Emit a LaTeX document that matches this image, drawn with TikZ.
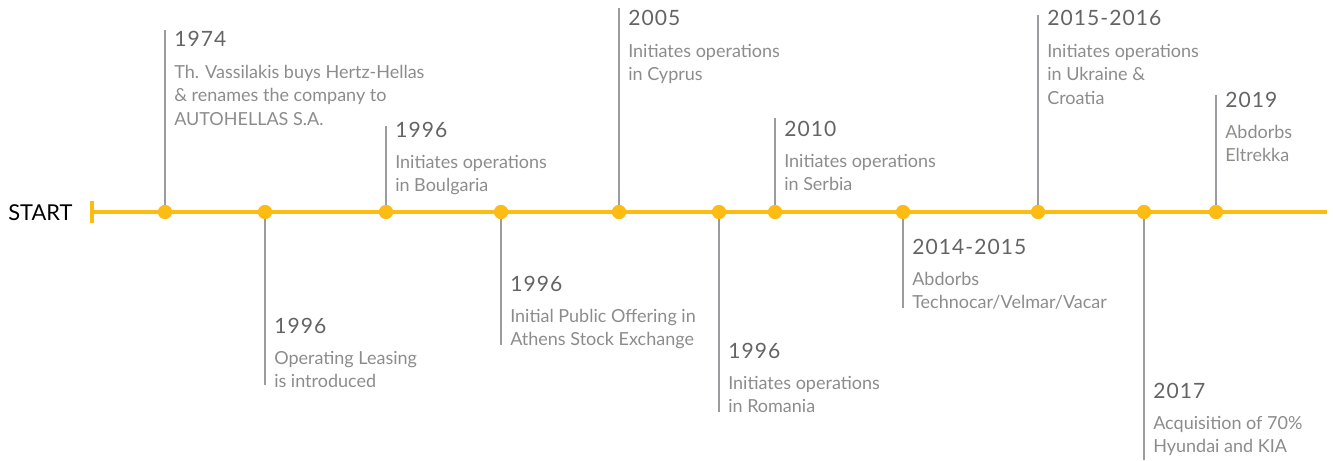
\documentclass[tikz,border=0pt]{standalone}
\usepackage{fontspec}
\setmainfont{Lato}
\newfontfamily\yearfont{Lato}[LetterSpace=5]
\usetikzlibrary{positioning}
\definecolor{tlyellow}{RGB}{252,188,20}
\definecolor{tlgray}{RGB}{155,155,160}
\definecolor{yeargray}{RGB}{100,100,100}
\definecolor{textgray}{RGB}{140,140,140}

\begin{document}
\begin{tikzpicture}[x=0.75pt,y=0.75pt,yscale=-1,xscale=1,
    dot/.style={circle,fill=tlyellow,inner sep=0pt,minimum size=10.5pt},
    stem/.style={draw=tlgray,line width=1.9pt},
    axis/.style={draw=tlyellow,line width=3pt},
    year/.style={anchor=base west,inner sep=0pt,text=yeargray,font=\yearfont\fontsize{15.8}{18}\selectfont},
    info/.style={anchor=base west,inner sep=0pt,text=textgray,align=left,font=\fontsize{13.5}{17.6}\selectfont}]
        \useasboundingbox (0,0) rectangle (1333,460);

        % Axis
        \node [anchor=base west,inner sep=0pt,font=\fontsize{16.4}{18}\selectfont] (start) at (8,220) {START};
        \coordinate (tick) at (92,212);
        \coordinate (tickup) at (92,201);
        \coordinate (tickdn) at (92,223);
        \coordinate (axisend) at (1327,212);
        \draw [axis] (tick) -- (axisend);
        \draw [axis] (tickup) -- (tickdn);

        % Events: x / end of stem / year baseline / lines of text / year / text
        \foreach \x/\e/\b/\n/\yr/\txt [count=\i] in {
            165/30/47/3/1974/{Th. Vassilakis buys Hertz-Hellas\\\& renames the company to\\AUTOHELLAS S.A.},
            265/385/333/2/1996/{Operating Leasing\\is introduced},
            386/126/137/2/1996/{Initiates operations\\in Boulgaria},
            501/345/291/2/1996/{Initial Public Offering in\\Athens Stock Exchange},
            619/8/26/2/2005/{Initiates operations\\in Cyprus},
            719/412/358/2/1996/{Initiates operations\\in Romania},
            775/118/136/2/2010/{Initiates operations\\in Serbia},
            903/308/254/2/2014-2015/{Abdorbs\\Technocar/Velmar/Vacar},
            1038/15/26/3/2015-2016/{Initiates operations\\in Ukraine \&\\Croatia},
            1144/460/398/2/2017/{Acquisition of 70\%\\Hyundai and KIA},
            1216/95/107/2/2019/{Abdorbs\\Eltrekka}} {
            \coordinate (e\i) at (\x,\e);
            \node [dot] (d\i) at (\x,212) {};
            \draw [stem] (d\i) -- (e\i);
            \node [dot] at (d\i) {};
            \node [year] (y\i) at (\x+9,\b) {\yr};
            % base of a multi-line node is its last line
            \node [info] (t\i) at (\x+9,\b+31+23.5*\n-23.5) {\txt};
        }

\end{tikzpicture}
\end{document}
